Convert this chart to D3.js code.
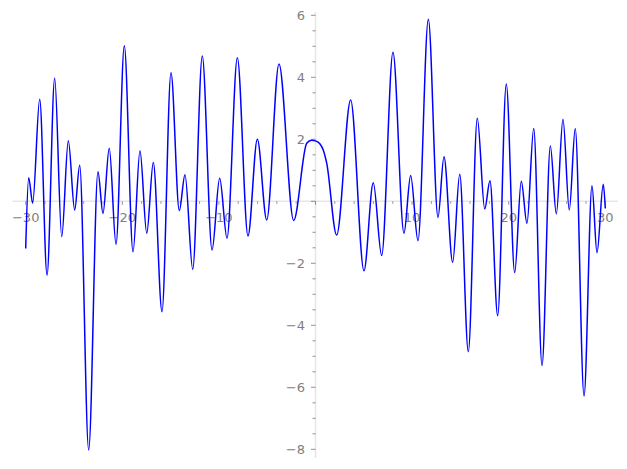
<!DOCTYPE html>
<html><head><meta charset="utf-8">
<script src="https://cdn.jsdelivr.net/npm/d3@7"></script>
<style>body{margin:0;background:#fff}svg{display:block}</style>
</head><body>
<svg id="c" width="627" height="469"></svg>
<script>
// Curve points (x, y): ends, extrema and shoulder points
const xs = [-30,-29.69,-29.28,-28.55,-27.79,-27.0,-26.27,-25.59,-24.93,-24.41,-23.48,-22.52,-22.0,-21.35,-20.65,-19.79,-18.89,-18.17,-17.47,-16.79,-15.89,-14.96,-14.1,-13.51,-12.71,-11.72,-10.71,-9.92,-9.16,-8.09,-6.99,-6.02,-5.05,-3.78,-2.26,-0.91,-0.4,0.0,0.47,0.81,1.16,2.19,3.64,5.02,5.98,6.85,8.02,9.16,9.85,10.61,11.68,12.68,13.3,14.2,14.93,15.82,16.75,17.52,18.06,18.86,19.75,20.62,21.3,21.89,22.59,23.45,24.31,24.93,25.62,26.27,26.89,27.8,28.62,29.14,29.79,30];
const ys = [-1.52,0.76,-0.06,3.29,-2.38,3.97,-1.14,1.95,-0.28,1.16,-8.02,0.95,-0.39,1.71,-1.39,5.02,-1.63,1.63,-1.03,1.25,-3.56,4.15,-0.3,0.86,-2.19,4.69,-1.57,0.74,-1.19,4.63,-1.12,2.0,-0.6,4.43,-0.62,1.87,1.97,1.95,1.85,1.65,1.23,-1.09,3.27,-2.24,0.6,-1.75,4.81,-1.03,0.83,-1.27,5.87,-0.52,1.44,-1.97,0.87,-4.85,2.68,-0.25,0.66,-3.69,3.78,-2.3,0.65,-0.71,2.35,-5.3,1.78,-0.41,2.65,-0.28,2.35,-6.28,0.5,-1.66,0.55,-0.23];
const xTicks = [-30,-20,-10,10,20,30];
const yTicks = [-8,-6,-4,-2,2,4,6];

const svg = d3.select('#c');
const x = d3.scaleLinear().domain([-30,30]).range([25.7,605.3]);
const y = d3.scaleLinear().domain([0,6]).range([201.3,15.3]);
const grey = '#808080', axisCol = '#e6e6e6', tickCol = '#666';
const font = 'DejaVu Sans, sans-serif';

// axis lines
svg.append('line').attr('x1',12.5).attr('x2',618).attr('y1',y(0)).attr('y2',y(0))
  .attr('stroke',axisCol).attr('stroke-width',1.6);
svg.append('line').attr('x1',x(0)).attr('x2',x(0)).attr('y1',12).attr('y2',458)
  .attr('stroke',axisCol).attr('stroke-width',1.6);

// x ticks (major every 10, minor every 2)
const xMinor = d3.range(-30,31,2).filter(v=>v!==0);
svg.append('g').selectAll('line').data(xMinor).join('line')
  .attr('x1',d=>x(d)).attr('x2',d=>x(d)).attr('y1',y(0)).attr('y2',d=>y(0)+(d%10===0?3.5:2.5))
  .attr('stroke',tickCol).attr('stroke-width',0.7);
svg.append('g').selectAll('text').data(xTicks).join('text')
  .attr('x',d=>x(d)).attr('y',222).attr('text-anchor','middle')
  .attr('font-family',font).attr('font-size',13).attr('fill',grey)
  .text(d=>d<0?'\u2212'+Math.abs(d):d);

// y ticks (major every 2, minor every 0.5)
const yMinor = d3.range(-8,6.01,0.5).filter(v=>v!==0);
svg.append('g').selectAll('line').data(yMinor).join('line')
  .attr('x1',d=>x(0)-(d%2===0?4.5:3)).attr('x2',x(0)).attr('y1',d=>y(d)).attr('y2',d=>y(d))
  .attr('stroke',tickCol).attr('stroke-width',0.7);
svg.append('g').selectAll('text').data(yTicks).join('text')
  .attr('x',305).attr('y',d=>y(d)+4.6).attr('text-anchor','end')
  .attr('font-family',font).attr('font-size',13).attr('fill',grey)
  .text(d=>d<0?'\u2212'+Math.abs(d):d);
// tick at origin
svg.append('line').attr('x1',x(0)-4.5).attr('x2',x(0)).attr('y1',y(0)).attr('y2',y(0)).attr('stroke',tickCol).attr('stroke-width',0.7);
svg.append('line').attr('x1',x(0)).attr('x2',x(0)).attr('y1',y(0)).attr('y2',y(0)+3.5).attr('stroke',tickCol).attr('stroke-width',0.7);

// curve
const pts = xs.map((v,i)=>[v,ys[i]]);
svg.append('path').datum(pts)
  .attr('d',d3.line().x(d=>x(d[0])).y(d=>y(d[1])).curve(d3.curveMonotoneX))
  .attr('fill','none').attr('stroke','#0000ff').attr('stroke-width',1.5);
</script>
</body></html>
